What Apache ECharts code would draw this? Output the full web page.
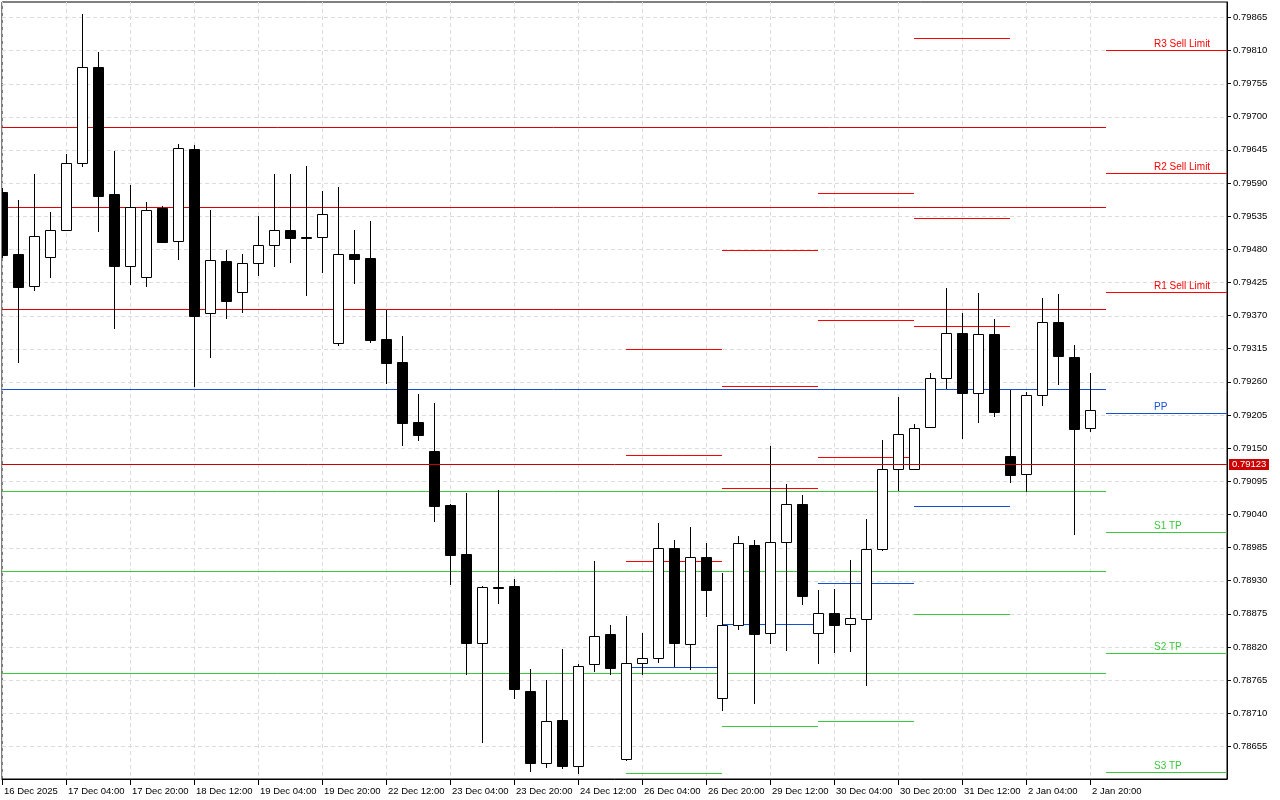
<!DOCTYPE html>
<html>
<head>
<meta charset="utf-8">
<script src="https://cdn.jsdelivr.net/npm/echarts@6/dist/echarts.min.js"></script>
<style>
html,body{margin:0;padding:0;background:#fff;}
#c{width:1280px;height:800px;}
</style>
</head>
<body>
<div id="c"></div>
<script>
// ---------- DATA ----------
const xLabelBars = [0, 4, 8, 12, 16, 20, 24, 28, 32, 36, 40, 44, 48, 52, 56, 60, 64, 68];
const xLabels = ['16 Dec 2025', '17 Dec 04:00', '17 Dec 20:00', '18 Dec 12:00', '19 Dec 04:00', '19 Dec 20:00',
  '22 Dec 12:00', '23 Dec 04:00', '23 Dec 20:00', '24 Dec 12:00', '26 Dec 04:00', '26 Dec 20:00',
  '29 Dec 12:00', '30 Dec 04:00', '30 Dec 20:00', '31 Dec 12:00', '2 Jan 04:00', '2 Jan 20:00'];

const yTicks = [0.78655, 0.78710, 0.78765, 0.78820, 0.78875, 0.78930, 0.78985, 0.79040, 0.79095, 0.79150,
  0.79205, 0.79260, 0.79315, 0.79370, 0.79425, 0.79480, 0.79535, 0.79590, 0.79645, 0.79700,
  0.79755, 0.79810, 0.79865];

const open = [
  0.79575, 0.79472, 0.79419, 0.79468, 0.79512, 0.79623, 0.79782, 0.79572, 0.79452, 0.79434,
  0.79549, 0.79493, 0.79646, 0.79374, 0.79460, 0.79409, 0.79458, 0.79487, 0.79512, 0.79500,
  0.79500, 0.79324, 0.79473, 0.79465, 0.79331, 0.79293, 0.79193, 0.79145, 0.79056, 0.78974,
  0.78827, 0.78920, 0.78921, 0.78747, 0.78628, 0.78699, 0.78623, 0.78791, 0.78841, 0.78634,
  0.78793, 0.78801, 0.78985, 0.78825, 0.78970, 0.78735, 0.78856, 0.78989, 0.78843, 0.78995,
  0.79057, 0.78844, 0.78876, 0.78858, 0.78867, 0.78982, 0.79115, 0.79115, 0.79185, 0.79266,
  0.79341, 0.79242, 0.79339, 0.79137, 0.79107, 0.79239, 0.79359, 0.79302, 0.79183];
const close = [
  0.79471, 0.79417, 0.79502, 0.79512, 0.79623, 0.79782, 0.79569, 0.79453, 0.79551, 0.79546,
  0.79492, 0.79648, 0.79370, 0.79462, 0.79395, 0.79458, 0.79487, 0.79512, 0.79498, 0.79498,
  0.79538, 0.79473, 0.79464, 0.79330, 0.79292, 0.79192, 0.79172, 0.79054, 0.78973, 0.78826,
  0.78920, 0.78918, 0.78751, 0.78628, 0.78697, 0.78623, 0.78789, 0.78838, 0.78785, 0.78793,
  0.78801, 0.78985, 0.78827, 0.78970, 0.78915, 0.78856, 0.78992, 0.78842, 0.78995, 0.79057,
  0.78905, 0.78876, 0.78857, 0.78868, 0.78982, 0.79115, 0.79173, 0.79183, 0.79266, 0.79341,
  0.79242, 0.79339, 0.79210, 0.79106, 0.79239, 0.79359, 0.79303, 0.79182, 0.79213];
const high = [
  0.79582, 0.79562, 0.79605, 0.79542, 0.79638, 0.79870, 0.79808, 0.79643, 0.79587, 0.79558,
  0.79552, 0.79655, 0.79653, 0.79545, 0.79479, 0.79473, 0.79535, 0.79605, 0.79605, 0.79618,
  0.79577, 0.79583, 0.79512, 0.79527, 0.79380, 0.79336, 0.79240, 0.79225, 0.79057, 0.79076,
  0.78921, 0.79081, 0.78932, 0.78784, 0.78765, 0.78817, 0.78792, 0.78963, 0.78856, 0.78871,
  0.78844, 0.79026, 0.78998, 0.79019, 0.78993, 0.78943, 0.79004, 0.78998, 0.79154, 0.79090,
  0.79072, 0.78915, 0.78916, 0.78964, 0.79032, 0.79163, 0.79235, 0.79190, 0.79274, 0.79416,
  0.79374, 0.79407, 0.79364, 0.79246, 0.79243, 0.79399, 0.79406, 0.79321, 0.79275];
const low = [
  0.79466, 0.79291, 0.79411, 0.79433, 0.79511, 0.79617, 0.79509, 0.79348, 0.79421, 0.79418,
  0.79491, 0.79463, 0.79252, 0.79300, 0.79365, 0.79375, 0.79435, 0.79451, 0.79458, 0.79403,
  0.79441, 0.79320, 0.79423, 0.79325, 0.79256, 0.79153, 0.79162, 0.79027, 0.78923, 0.78773,
  0.78660, 0.78892, 0.78733, 0.78612, 0.78619, 0.78617, 0.78610, 0.78779, 0.78773, 0.78630,
  0.78774, 0.78793, 0.78787, 0.78782, 0.78870, 0.78714, 0.78848, 0.78726, 0.78825, 0.78814,
  0.78890, 0.78791, 0.78810, 0.78812, 0.78756, 0.78980, 0.79079, 0.79114, 0.79184, 0.79248,
  0.79165, 0.79192, 0.79201, 0.79092, 0.79077, 0.79220, 0.79255, 0.79006, 0.79177];

// Daily pivot segments (each day spans 6 bars starting at these bar indices)
const dayStart = [39, 45, 51, 57];
const dayR3 = [0.79315, 0.79479, 0.79573, 0.79831];
const dayR2 = [0.79139, 0.79253, 0.79363, 0.79532];
const dayR1 = [0.78963, 0.79084, 0.79135, 0.79353];
const dayPP = [0.78787, 0.78858, 0.78926, 0.79054];
const dayS1 = [0.78611, 0.78689, 0.78697, 0.78875];
const dayBars = 6;

// Current-day levels drawn across the chart (R3, R2, R1, PP, S1, S2, S3)
const curLevels = [0.79683, 0.79550, 0.79381, 0.79248, 0.79079, 0.78946, 0.78777];
const curEndBar = 69;

// Next-day levels with labels
const nextStartBar = 69;
const nextLevels = [0.79810, 0.79606, 0.79409, 0.79208, 0.79010, 0.78810, 0.78613];
const nextLabels = ['R3 Sell Limit', 'R2 Sell Limit', 'R1 Sell Limit', 'PP', 'S1 TP', 'S2 TP', 'S3 TP'];
const levelKinds = ['R', 'R', 'R', 'P', 'S', 'S', 'S'];

const lastPrice = 0.79123;

// ---------- CHART ----------
const FONT_AXIS = "'Liberation Sans', Arial, sans-serif";
const FONT_LBL = "'Liberation Sans', Arial, sans-serif";
const AXIS_FS = 9.5;
const X_MIN = 0, X_MAX = 76.5625;
const Y_MIN = 0.786009, Y_MAX = 0.798904;
const LABEL_BAR = 72;
const COLORS = { R: '#ff0000', P: '#1450d2', S: '#3cc83c' };
const COLORS_FULL = { R: '#dc0000', P: '#1450d2', S: '#3cc83c' };

const candleData = open.map((o, i) => [i, o, close[i], low[i], high[i]]);

// build level segments
const segs = [];
dayStart.forEach((s, d) => {
  const vals = [dayR3[d], dayR2[d], dayR1[d], dayPP[d], dayS1[d]];
  const kinds = ['R', 'R', 'R', 'P', 'S'];
  vals.forEach((v, j) => segs.push({ x1: s, x2: s + dayBars, v: v, color: COLORS[kinds[j]], label: '' }));
});
curLevels.forEach((v, j) => segs.push({ x1: X_MIN - 1, x2: curEndBar, v: v, color: COLORS_FULL[levelKinds[j]], label: '' }));
nextLevels.forEach((v, j) => segs.push({ x1: nextStartBar, x2: X_MAX + 1, v: v, color: COLORS[levelKinds[j]], label: nextLabels[j] }));

const crisp = v => Math.round(v) + 0.5;

const chart = echarts.init(document.getElementById('c'), null, { renderer: 'canvas' });

const option = {
  animation: false,
  backgroundColor: '#ffffff',
  grid: {
    left: 2, top: 2, right: 53, bottom: 21,
    show: true, borderColor: '#000', borderWidth: 1, backgroundColor: '#fff',
    containLabel: false, outerBoundsMode: 'none'
  },
  xAxis: {
    type: 'value', min: X_MIN, max: X_MAX, interval: 2,
    axisLine: { show: true, onZero: false, lineStyle: { color: '#000', width: 1 } },
    axisTick: { show: true, customValues: xLabelBars, length: 6, lineStyle: { color: '#000' } },
    axisLabel: {
      customValues: xLabelBars,
      formatter: v => { const k = xLabelBars.indexOf(v); return k >= 0 ? xLabels[k] : ''; },
      align: 'left', margin: 7, padding: [0, 0, 0, 2],
      color: '#000', fontFamily: FONT_AXIS, fontSize: AXIS_FS
    },
    splitLine: { show: true, lineStyle: { color: '#dcdcdc', type: [4, 3], width: 1 } }
  },
  yAxis: {
    type: 'value', position: 'right', min: Y_MIN, max: Y_MAX, scale: true,
    axisLine: { show: true, onZero: false, lineStyle: { color: '#000', width: 1 } },
    axisTick: { show: true, customValues: yTicks, length: 4, lineStyle: { color: '#000' } },
    axisLabel: {
      customValues: yTicks, formatter: v => v.toFixed(5), margin: 6,
      color: '#000', fontFamily: FONT_AXIS, fontSize: AXIS_FS
    },
    splitLine: { show: false }
  },
  series: [
    { // horizontal dashed grid lines at the price ticks
      type: 'custom', silent: true, z: 1, clip: true,
      data: yTicks.map(v => [v]),
      encode: { y: 0 },
      renderItem: (params, api) => {
        const v = api.value(0);
        const a = api.coord([X_MIN, v]), b = api.coord([X_MAX, v]);
        const y = crisp(a[1]);
        return { type: 'line', shape: { x1: a[0], y1: y, x2: b[0], y2: y },
          style: { stroke: '#dcdcdc', lineWidth: 1, lineDash: [4, 3] } };
      }
    },
    { // pivot level segments
      type: 'custom', silent: true, z: 2, clip: true,
      data: segs.map(s => [s.x1, s.x2, s.v]),
      encode: { x: [0, 1], y: 2 },
      renderItem: (params, api) => {
        const s = segs[params.dataIndex];
        const a = api.coord([api.value(0), api.value(2)]);
        const b = api.coord([api.value(1), api.value(2)]);
        const y = crisp(a[1]);
        const children = [{ type: 'line', shape: { x1: a[0], y1: y, x2: b[0], y2: y },
          style: { stroke: s.color, lineWidth: 1 } }];
        if (s.label) {
          const t = api.coord([LABEL_BAR, api.value(2)]);
          children.push({ type: 'text', x: Math.round(t[0]), y: y - 1.5,
            style: { text: s.label, fill: s.color, font: '10px ' + FONT_LBL,
              textAlign: 'left', textVerticalAlign: 'bottom' } });
        }
        return { type: 'group', children: children };
      }
    },
    { // candles
      type: 'custom', z: 3, clip: true,
      data: candleData,
      encode: { x: 0, y: [1, 2, 3, 4] },
      renderItem: (params, api) => {
        const i = api.value(0), o = api.value(1), c = api.value(2), l = api.value(3), h = api.value(4);
        const pO = api.coord([i, o]), pC = api.coord([i, c]);
        const pL = api.coord([i, l]), pH = api.coord([i, h]);
        const w = api.size([1, 0])[0] * 0.625;
        const half = Math.round(w / 2);
        const cx = crisp(pO[0]);
        let top = crisp(Math.min(pO[1], pC[1]));
        let bot = crisp(Math.max(pO[1], pC[1]));
        if (bot - top < 1) bot = top + 1;
        const bull = c > o;
        return { type: 'group', children: [
          { type: 'line', shape: { x1: cx, y1: Math.round(pH[1]), x2: cx, y2: Math.round(pL[1]) },
            style: { stroke: '#000', lineWidth: 1 } },
          { type: 'rect', shape: { x: cx - half, y: top, width: 2 * half, height: bot - top },
            style: { fill: bull ? '#fff' : '#000', stroke: '#000', lineWidth: 1 } }
        ] };
      }
    },
    { // last price line and tag
      type: 'custom', silent: true, z: 4, clip: false,
      data: [[X_MAX, lastPrice]],
      encode: { x: 0, y: 1 },
      renderItem: (params, api) => {
        const v = api.value(1);
        const a = api.coord([X_MIN, v]), b = api.coord([X_MAX, v]);
        const y = crisp(a[1]);
        return { type: 'group', children: [
          { type: 'line', shape: { x1: a[0], y1: y, x2: b[0], y2: y }, style: { stroke: '#cc0000', lineWidth: 1 } },
          { type: 'rect', shape: { x: Math.round(b[0]) + 2, y: Math.round(a[1]) - 5, width: 40, height: 11 },
            style: { fill: '#cc0000' } },
          { type: 'text', x: Math.round(b[0]) + 5, y: Math.round(a[1]) + 0.5,
            style: { text: v.toFixed(5), fill: '#fff', font: AXIS_FS + 'px ' + FONT_AXIS,
              textAlign: 'left', textVerticalAlign: 'middle' } }
        ] };
      }
    }
  ]
};
chart.setOption(option);
</script>
</body>
</html>
